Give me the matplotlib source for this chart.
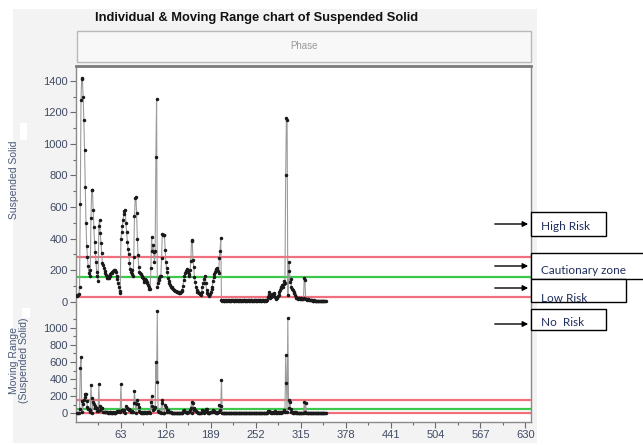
import numpy as np
import matplotlib
matplotlib.use("Agg")
import matplotlib.pyplot as plt
from matplotlib.patches import Rectangle, FancyArrowPatch

# ---------------- data ----------------
suspended_solid = [
    40, 38, 42, 45, 95, 620, 1280, 1420, 1410, 1300,
    1150, 960, 730, 500, 355, 280, 225, 180, 165, 200,
    530, 705, 710, 580, 470, 380, 316, 253, 190, 160,
    132, 480, 515, 435, 373, 307, 244, 230, 210, 195,
    180, 170, 160, 150, 148, 152, 165, 175, 180, 188,
    180, 192, 198, 200, 195, 185, 160, 140, 115, 90,
    65, 55, 400, 440, 480, 520, 555, 575, 580, 500,
    440, 380, 335, 300, 245, 205, 185, 200, 175, 165,
    285, 540, 660, 665, 560, 400, 295, 220, 190, 180,
    175, 165, 158, 150, 135, 126, 140, 137, 125, 118,
    105, 95, 80, 78, 210, 410, 320, 360, 312, 250,
    320, 920, 1285, 90, 117, 137, 150, 160, 160, 276,
    428, 425, 420, 424, 327, 253, 210, 190, 150, 130,
    117, 105, 94, 90, 86, 80, 76, 73, 70, 66,
    63, 63, 60, 58, 56, 56, 58, 65, 73, 100,
    137, 160, 180, 195, 206, 200, 190, 175, 162, 200,
    260, 390, 387, 263, 221, 158, 125, 94, 75, 63,
    58, 55, 54, 48, 41, 60, 94, 117, 117, 140,
    165, 120, 73, 54, 48, 41, 35, 50, 63, 80,
    94, 130, 158, 175, 190, 200, 205, 212, 195, 180,
    276, 320, 403,
    8, 6, 7, 5, 6, 8, 7, 5, 6, 7,
    8, 6, 5, 7, 6, 8, 7, 6, 5, 7,
    6, 8, 7, 5, 6, 7, 8, 6, 5, 7,
    6, 8, 7, 6, 5, 7, 6, 8, 7, 5,
    6, 7, 8, 6, 5, 7, 6, 8, 7, 6,
    5, 7, 6, 8, 7, 5, 6, 7, 8, 6,
    5, 7, 6, 8, 7,
    30, 58, 40, 25, 30, 40, 45, 35, 50, 53,
    30, 20, 18, 25, 35, 40, 60, 75, 84, 95,
    105, 95, 131, 110, 120, 803, 1163, 1150, 40, 196,
    253, 126, 145, 94, 80, 73, 60, 53, 40, 30,
    25, 20, 18, 20, 25, 18, 15, 20, 18, 15,
    20, 147, 137, 18, 15, 12, 15, 14, 12, 10,
    12, 10, 8,
    6, 5, 7, 5, 6, 4, 5, 6, 5, 4, 5, 6, 5, 4, 5, 5, 4, 5, 4,
]
individual_limits = [284, 155, 28]     # UCL, centre, LCL
mr_limits = [155, 50, 0]               # UCL, centre, LCL
x_ticks = [63, 126, 189, 252, 315, 378, 441, 504, 567, 630]
ind_ticks = [0, 200, 400, 600, 800, 1000, 1200, 1400]
mr_ticks = [0, 200, 400, 600, 800, 1000]
risk_labels = ["High Risk", "Cautionary zone", "Low Risk", "No  Risk"]

vals = np.array(suspended_solid, dtype=float)
xs = np.arange(1, len(vals) + 1)
mr = np.abs(np.diff(vals))
xs_mr = xs[1:]

W, H = 643, 445
fig = plt.figure(figsize=(W / 100, H / 100), dpi=100)
fig.patch.set_facecolor("white")

def fx(px):
    return px / W

def fy(py):
    return 1 - py / H

# light gray chart background
fig.add_artist(Rectangle((fx(13), fy(443)), fx(537) - fx(13), fy(9) - fy(443),
                         transform=fig.transFigure, facecolor="#f3f3f3",
                         edgecolor="none", zorder=0))

# title
fig.text(fx(257), fy(18), "Individual & Moving Range chart of Suspended Solid",
         ha="center", va="center", fontsize=9.3, fontweight="bold",
         family="Liberation Sans", color="#111111", zorder=3)

# phase header
fig.add_artist(Rectangle((fx(77), fy(62)), fx(531) - fx(77), fy(31) - fy(62),
                         transform=fig.transFigure, facecolor="#f8f8f8",
                         edgecolor="#b8b8b8", lw=1, zorder=2))
fig.text(fx(304), fy(46), "Phase", ha="center", va="center", fontsize=7,
         family="Liberation Sans", color="#9a9a9a", zorder=3)

L, R = 76, 531
top_u, bot_u, bot_l = 66, 305, 422
ax1 = fig.add_axes([fx(L), fy(bot_u), fx(R) - fx(L), fy(top_u) - fy(bot_u)])
ax2 = fig.add_axes([fx(L), fy(bot_l), fx(R) - fx(L), fy(bot_u) - fy(bot_l)], sharex=ax1)

tick_color = "#3f4a63"
line_gray = "#9c9c9c"
red = "#f0707e"
green = "#3cc84a"

for ax in (ax1, ax2):
    ax.set_facecolor("white")
    for s in ("left", "right", "top", "bottom"):
        ax.spines[s].set_color("#8a8a8a")
        ax.spines[s].set_linewidth(1.0)
    ax.tick_params(axis="both", direction="out", length=4, width=0.8,
                   color="#6a6a6a", labelsize=8, labelcolor=tick_color,
                   pad=2)
    ax.tick_params(which="minor", length=2.5, width=0.8, color="#6a6a6a")

ax1.spines["bottom"].set_visible(False)
ax2.spines["top"].set_visible(False)
ax1.spines["top"].set_linewidth(2.0)
ax1.spines["top"].set_color("#7a7a7a")

# individuals
ax1.plot(xs, vals, color=line_gray, lw=0.8, zorder=2)
ax1.plot(xs, vals, linestyle="none", marker="o", ms=1.5, color="#1a1a1a", zorder=3)
for v, c in zip(individual_limits, [red, green, red]):
    ax1.axhline(v, color=c, lw=1.6, zorder=1)
ax1.set_ylim(-22, 1495)
ax1.set_yticks(ind_ticks)
ax1.set_yticks(np.arange(100, 1500, 200), minor=True)
ax1.tick_params(axis="x", which="both", bottom=False, labelbottom=False)

# moving range
ax2.plot(xs_mr, mr, color=line_gray, lw=0.8, zorder=2)
ax2.plot(xs_mr, mr, linestyle="none", marker="o", ms=1.5, color="#1a1a1a", zorder=3)
for v, c in zip(mr_limits, [red, green, red]):
    ax2.axhline(v, color=c, lw=1.6, zorder=1)
ax2.set_ylim(-102, 1267)
ax2.set_yticks(mr_ticks)
ax2.set_yticks(np.arange(100, 1300, 200), minor=True)
ax2.set_xlim(0, 638)
ax2.set_xticks(x_ticks)
ax2.set_xticks(np.arange(31.5, 638, 63), minor=True)

for ax in (ax1, ax2):
    for lab in ax.get_yticklabels() + ax.get_xticklabels():
        lab.set_family("Liberation Sans")

# axis labels
fig.text(fx(14), fy(180), "Suspended Solid", rotation=90, ha="center",
         va="center", fontsize=7.5, family="Liberation Sans", color="#4a5878")
fig.text(fx(19), fy(360), "Moving Range\n(Suspended Solid)", rotation=90,
         ha="center", va="center", fontsize=7.5, family="Liberation Sans",
         color="#4a5878", linespacing=1.0)
# white patches covering parts of labels (as in reference)
fig.add_artist(Rectangle((fx(20), fy(140)), fx(27) - fx(20), fy(123) - fy(140),
                         transform=fig.transFigure, facecolor="white",
                         edgecolor="none", zorder=5))
fig.add_artist(Rectangle((fx(22), fy(318)), fx(30) - fx(22), fy(308) - fy(318),
                         transform=fig.transFigure, facecolor="white",
                         edgecolor="none", zorder=5))

# ---------------- risk annotation boxes ----------------
text_color = "#1f2d5c"
boxes = [  # (x0, y0, x1, y1) in pixel coords from top
    (531, 212, 606, 236),
    (531, 253, 650, 279),
    (531, 279, 626, 302),
    (531, 309, 606, 330),
]
text_y = [226, 271, 298, 323]
arrow_y = [224, 266, 288, 324]
for i, ((x0, y0, x1, y1), label) in enumerate(zip(boxes, risk_labels)):
    rect = Rectangle((fx(x0), fy(y1)), fx(x1) - fx(x0), fy(y0) - fy(y1),
                     transform=fig.transFigure, facecolor="white",
                     edgecolor="black", lw=1.0, zorder=10 + 2 * i)
    fig.add_artist(rect)
    t = fig.text(fx(541), fy(text_y[i]), label, ha="left", va="center",
                 fontsize=8.5, family="Lato", color=text_color,
                 zorder=11 + 2 * i)
    t.set_clip_path(rect)
    fig.add_artist(FancyArrowPatch(
        (fx(492), fy(arrow_y[i])), (fx(531), fy(arrow_y[i])),
        transform=fig.transFigure, arrowstyle="-|>", mutation_scale=8,
        color="black", lw=1.0, zorder=20))

fig.savefig("out.png", dpi=100)
